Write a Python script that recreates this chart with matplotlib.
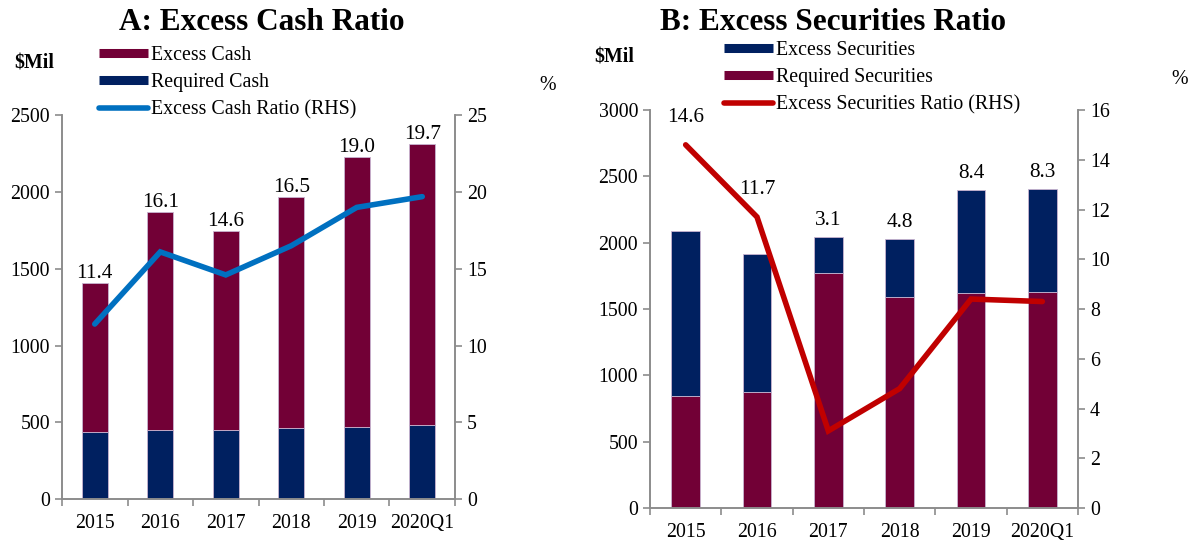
import matplotlib
matplotlib.use("Agg")
import matplotlib.pyplot as plt
from matplotlib.lines import Line2D
import numpy as np

years = ['2015', '2016', '2017', '2018', '2019', '2020Q1']
required_cash = [435, 452, 452, 465, 470, 481]
excess_cash = [970, 1420, 1296, 1502, 1760, 1834]
cash_ratio = [11.4, 16.1, 14.6, 16.5, 19.0, 19.7]

required_sec = [844, 877, 1769, 1588, 1618, 1628]
excess_sec = [1241, 1037, 273, 442, 776, 774]
sec_ratio = [14.6, 11.7, 3.1, 4.8, 8.4, 8.3]

MAROON = '#720036'
NAVY = '#002060'
BLUE = '#0070C0'
RED = '#C00000'
GRAY = '#8c8c8c'
EDGE = '#c8b4d0'

plt.rcParams['font.family'] = ['Liberation Serif', 'DejaVu Serif']
FS = 14.3

fig = plt.figure(figsize=(11.99, 5.44), dpi=100)


def style_axes(ax, ax2, n):
    for a in (ax, ax2):
        a.spines['top'].set_visible(False)
        for s in ('left', 'right', 'bottom'):
            a.spines[s].set_color(GRAY)
            a.spines[s].set_linewidth(1.2)
        a.tick_params(axis='y', colors=GRAY, labelcolor='black', labelsize=FS,
                      direction='out', length=5, width=1.2)
    ax.set_xlim(-0.5, n - 0.5)
    ax.set_xticks(np.arange(n))
    ax.set_xticklabels(years, fontsize=FS)
    ax.tick_params(axis='x', which='major', length=0, pad=11)
    ax.set_xticks(np.arange(n + 1) - 0.5, minor=True)
    ax.tick_params(axis='x', which='minor', length=5, width=1.2, colors=GRAY,
                   direction='out')


def panel(rect, bottom_vals, top_vals, ratio, c_bottom, c_top, c_line,
          ymax, ystep, rmax, rstep, title, title_x, legend_pos,
          legend_order, dollar_pos, pct_pos, twolevel):
    n = len(years)
    x = np.arange(n)
    ax = fig.add_axes(rect)
    ax2 = ax.twinx()
    ax.bar(x, bottom_vals, width=0.4, color=c_bottom, edgecolor=EDGE,
           linewidth=0.6, zorder=2)
    ax.bar(x, top_vals, width=0.4, bottom=bottom_vals, color=c_top,
           edgecolor=EDGE, linewidth=0.6, zorder=2)
    ax2.plot(x, ratio, color=c_line, lw=4.0, solid_capstyle='round',
             solid_joinstyle='miter', zorder=3)
    ax.set_ylim(0, ymax)
    ax.set_yticks(np.arange(0, ymax + 1, ystep))
    ax2.set_ylim(0, rmax)
    ax2.set_yticks(np.arange(0, rmax + 0.01, rstep))
    style_axes(ax, ax2, n)
    # data labels
    scale = ymax / rmax
    totals = np.array(bottom_vals) + np.array(top_vals)
    for i in range(n):
        line_y = ratio[i] * scale
        if twolevel and line_y > totals[i]:
            anchor, off = line_y, 13
        else:
            anchor, off = max(totals[i], line_y), (5 if twolevel else 0)
        ax2.annotate(f'{ratio[i]:.1f}', xy=(x[i], anchor / scale),
                     xytext=(0, off), textcoords='offset points',
                     ha='center', va='bottom', fontsize=FS + 1, zorder=5)
    # legend
    handles = []
    for lab, kind, col in legend_order:
        if kind == 'bar':
            handles.append(Line2D([0], [0], color=col, lw=6.5,
                                  solid_capstyle='butt'))
        else:
            handles.append(Line2D([0], [0], color=col, lw=4.0,
                                  solid_capstyle='round'))
    fig.legend(handles, [l for l, _, _ in legend_order],
               loc='upper left', bbox_to_anchor=legend_pos,
               frameon=False, fontsize=FS, handlelength=2.45,
               handletextpad=0.15, labelspacing=0.42, borderpad=0,
               borderaxespad=0)
    fig.text(title_x, 1 - 22 / 544, title, ha='center', va='center',
             fontsize=22.5, fontweight='bold')
    fig.text(dollar_pos[0], dollar_pos[1], '$Mil', ha='left', va='center',
             fontsize=FS, fontweight='bold')
    fig.text(pct_pos[0], pct_pos[1], '%', ha='center', va='center',
             fontsize=FS)
    return ax, ax2


panel([62 / 1199, 1 - 499 / 544, (455 - 62) / 1199, (499 - 115.3) / 544],
      required_cash, excess_cash, cash_ratio, NAVY, MAROON, BLUE,
      2500, 500, 25, 5, 'A: Excess Cash Ratio', 262 / 1199,
      (99 / 1199, 1 - 46 / 544),
      [('Excess Cash', 'bar', MAROON), ('Required Cash', 'bar', NAVY),
       ('Excess Cash Ratio (RHS)', 'line', BLUE)],
      (14 / 1199, 1 - 64 / 544), (548 / 1199, 1 - 86 / 544), False)

panel([650 / 1199, 1 - 508 / 544, (1078 - 650) / 1199, (508 - 110) / 544],
      required_sec, excess_sec, sec_ratio, MAROON, NAVY, RED,
      3000, 500, 16, 2, 'B: Excess Securities Ratio', 833 / 1199,
      (724 / 1199, 1 - 41 / 544),
      [('Excess Securities', 'bar', NAVY), ('Required Securities', 'bar', MAROON),
       ('Excess Securities Ratio (RHS)', 'line', RED)],
      (594 / 1199, 1 - 57 / 544), (1180 / 1199, 1 - 80 / 544), True)

fig.savefig('out.png', dpi=100)
